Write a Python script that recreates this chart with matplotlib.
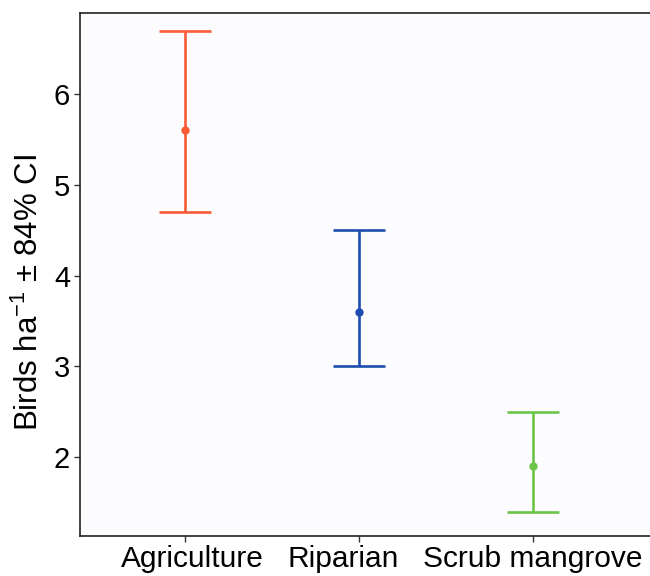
import matplotlib
matplotlib.use('Agg')
import matplotlib.pyplot as plt
from matplotlib.transforms import ScaledTranslation

# Data
habitats = ['Agriculture', 'Riparian', 'Scrub mangrove']
means = [5.6, 3.6, 1.9]
lower = [4.7, 3.0, 1.4]
upper = [6.7, 4.5, 2.5]
colors = ['#FA5A35', '#1E4CB0', '#6CC348']
yticks = [2, 3, 4, 5, 6]

plt.rcParams['font.family'] = ['Liberation Sans', 'DejaVu Sans']
plt.rcParams['mathtext.fontset'] = 'custom'
plt.rcParams['mathtext.rm'] = 'Liberation Sans'
plt.rcParams['mathtext.it'] = 'Liberation Sans'

fig = plt.figure(figsize=(6.5, 5.76), dpi=100)
ax = fig.add_axes([0.123, 0.069, 0.877, 0.908])
ax.set_facecolor('#FCFCFE')

for i, (m, lo, hi, c) in enumerate(zip(means, lower, upper, colors)):
    x = i + 1
    ax.errorbar([x], [m], yerr=[[m - lo], [hi - m]], fmt='o', color=c,
                ecolor=c, elinewidth=1.9, capsize=18.5, capthick=1.9,
                markersize=5)

ax.set_xlim(0.4, 3.67)
ax.set_ylim(1.13, 6.89)
ax.set_xticks([1, 2, 3])
ax.set_xticklabels(habitats, fontsize=21.5)
ax.set_yticks(yticks)
ax.set_yticklabels([str(t) for t in yticks], fontsize=21)
ax.tick_params(axis='both', length=4, width=1, color='#333333', pad=3)
ax.tick_params(axis='x', pad=2)

# the labels in the original are packed together, not centred on their ticks
shifts = [7.5, -15.5, 0]
for lab, dx in zip(ax.get_xticklabels(), shifts):
    lab.set_transform(lab.get_transform() + ScaledTranslation(dx / 100, 0, fig.dpi_scale_trans))

ax.set_ylabel('Birds ha$^{-1}$ ± 84% CI', fontsize=22.5)
ax.yaxis.set_label_coords(-0.062, 0.465)

for side in ['left', 'top', 'bottom']:
    ax.spines[side].set_color('#222222')
    ax.spines[side].set_linewidth(1.2)
ax.spines['right'].set_visible(False)

fig.savefig('out.png', dpi=100)
